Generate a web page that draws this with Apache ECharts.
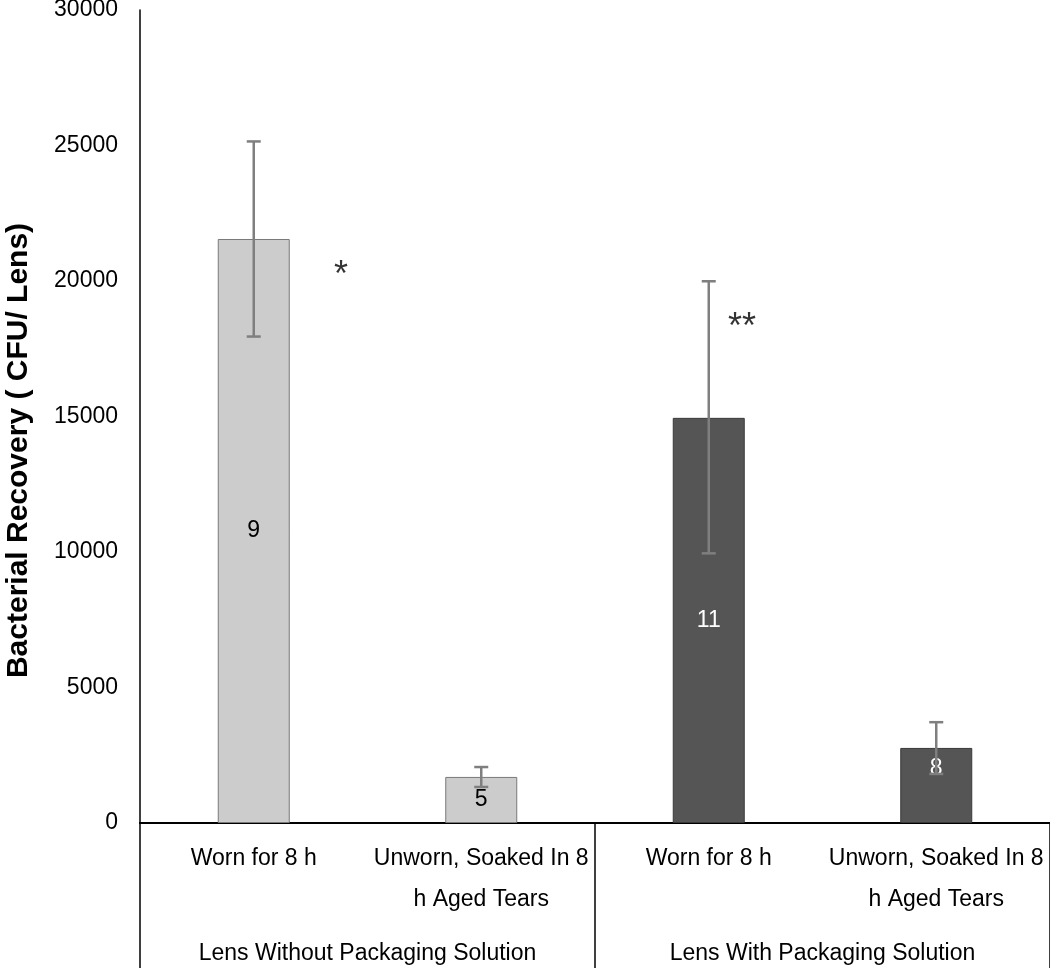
<!DOCTYPE html>
<html>
<head>
<meta charset="utf-8">
<script src="https://cdn.jsdelivr.net/npm/echarts@6/dist/echarts.min.js"></script>
<style>
  html, body { margin: 0; padding: 0; background: #fff; }
  #chart { width: 1050px; height: 968px; }
</style>
</head>
<body>
<div id="chart"></div>
<script>
// bar categories (lower level) and groups (upper level)
const categories = ['Worn for 8 h', 'Unworn, Soaked In 8\nh Aged Tears', 'Worn for 8 h', 'Unworn, Soaked In 8\nh Aged Tears']
const groups = ['Lens Without Packaging Solution', 'Lens With Packaging Solution']
const recovery = [21550, 1700, 14950, 2770]
const errLow = [17950, 1330, 9950, 1810]
const errHigh = [25150, 2065, 19990, 3720]
const counts = ['9', '5', '11', '8']
// significance marks, x in category units
const starX = [0.884, 2.646]
const starY = [20170, 18250]
const starText = ['*', '**']

const FONT = '"Liberation Sans", Arial, sans-serif'
const light = '#cccccc'
const dark = '#555555'

let ch = echarts.init(document.getElementById('chart'))

let barData = recovery.map((v, i) => {
  let isDark = i >= 2
  let item = {
    value: v,
    itemStyle: {
      color: isDark ? dark : light,
      borderColor: isDark ? '#3a3a3a' : '#7a7a7a',
      borderWidth: 1
    },
    label: { color: isDark ? '#fff' : '#000' }
  }
  if (i === 3) item.label.offset = [0, -17]
  return item
})

let option = {
  animation: false,
  textStyle: { fontFamily: FONT },
  grid: { left: 140, right: 0, top: 10, bottom: 145, containLabel: false, outerBoundsMode: 'none' },
  xAxis: [
    {
      type: 'category',
      data: categories,
      position: 'bottom',
      axisLine: { lineStyle: { color: '#000', width: 2 } },
      axisTick: { show: false },
      axisLabel: {
        interval: 0,
        color: '#000',
        fontSize: 23,
        lineHeight: 41,
        margin: 15,
        fontFamily: FONT
      }
    },
    {
      type: 'category',
      data: groups,
      position: 'bottom',
      axisLine: { lineStyle: { color: '#000', width: 2 } },
      axisTick: { show: true, length: 150, lineStyle: { color: '#000', width: 1.5 } },
      axisLabel: {
        interval: 0,
        color: '#000',
        fontSize: 23,
        margin: 119,
        fontFamily: FONT
      }
    },
    { type: 'value', min: 0, max: 4, show: false }
  ],
  yAxis: {
    type: 'value',
    min: 0,
    max: 30000,
    interval: 5000,
    name: 'Bacterial Recovery ( CFU/ Lens)',
    nameLocation: 'middle',
    nameGap: 106,
    nameTextStyle: {
      color: '#000',
      fontSize: 30,
      fontWeight: 'bold',
      fontFamily: FONT,
      padding: [0, 68, 0, 0]
    },
    axisLine: { show: true, lineStyle: { color: '#000', width: 1.5 } },
    axisTick: { show: false },
    splitLine: { show: false },
    axisLabel: {
      color: '#000',
      fontSize: 23,
      margin: 22,
      fontFamily: FONT,
      formatter: v => String(v)
    }
  },
  series: [
    {
      type: 'bar',
      xAxisIndex: 0,
      barWidth: 72,
      data: barData,
      label: {
        show: true,
        position: 'inside',
        fontSize: 23,
        fontFamily: FONT,
        formatter: p => counts[p.dataIndex]
      },
      z: 2
    },
    {
      type: 'custom',
      xAxisIndex: 0,
      data: recovery.map((v, i) => [i, errLow[i], errHigh[i]]),
      renderItem: (params, api) => {
        let lo = api.coord([api.value(0), api.value(1)])
        let hi = api.coord([api.value(0), api.value(2)])
        let w = 7
        let st = { stroke: '#7f7f7f', lineWidth: 2.5 }
        return {
          type: 'group',
          children: [
            { type: 'line', shape: { x1: hi[0], y1: hi[1], x2: lo[0], y2: lo[1] }, style: st },
            { type: 'line', shape: { x1: hi[0] - w, y1: hi[1], x2: hi[0] + w, y2: hi[1] }, style: st },
            { type: 'line', shape: { x1: lo[0] - w, y1: lo[1], x2: lo[0] + w, y2: lo[1] }, style: st }
          ]
        }
      },
      z: 3
    },
    {
      type: 'scatter',
      xAxisIndex: 2,
      symbolSize: 1,
      itemStyle: { color: 'rgba(0,0,0,0)' },
      data: starX.map((x, i) => [x, starY[i]]),
      label: {
        show: true,
        position: 'inside',
        color: '#000',
        fontSize: 36,
        fontFamily: FONT,
        formatter: p => starText[p.dataIndex]
      },
      z: 4
    }
  ]
}
ch.setOption(option)
</script>
</body>
</html>
